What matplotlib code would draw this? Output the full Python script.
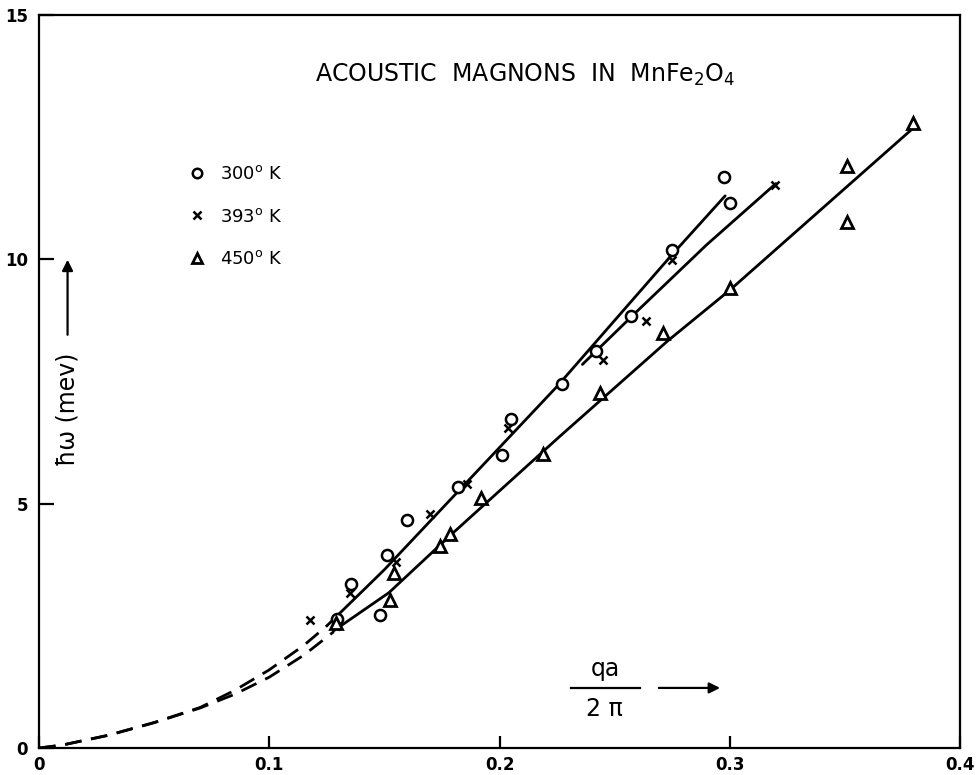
import matplotlib
matplotlib.use("Agg")
import matplotlib.pyplot as plt

plt.rcParams['font.family'] = ['DejaVu Sans']
plt.rcParams['mathtext.default'] = 'regular'

# ---- data ----
x300 = [0.1296, 0.148, 0.1357, 0.151, 0.160, 0.182, 0.201, 0.2048, 0.227, 0.2417, 0.257, 0.275, 0.2974, 0.300]
y300 = [2.65, 2.73, 3.35, 3.96, 4.67, 5.35, 6.00, 6.73, 7.45, 8.12, 8.84, 10.20, 11.69, 11.16]

x393 = [0.1178, 0.129, 0.135, 0.155, 0.170, 0.1857, 0.2035, 0.245, 0.2635, 0.275, 0.3196]
y393 = [2.63, 2.50, 3.18, 3.80, 4.78, 5.41, 6.55, 7.94, 8.73, 9.98, 11.53]

x450 = [0.129, 0.1526, 0.1543, 0.1743, 0.1787, 0.192, 0.2187, 0.2435, 0.271, 0.300, 0.351, 0.351, 0.3796]
y450 = [2.55, 3.02, 3.59, 4.14, 4.37, 5.12, 6.02, 7.26, 8.49, 9.41, 10.76, 11.92, 12.80]

# fitted curves drawn on the chart
fit_up_x = [0.125, 0.15, 0.175, 0.20, 0.225, 0.25, 0.275, 0.298]
fit_up_y = [2.50, 3.65, 4.90, 6.15, 7.40, 8.75, 10.10, 11.30]

fit_393_x = [0.236, 0.26, 0.29, 0.32]
fit_393_y = [7.85, 8.95, 10.30, 11.55]

fit_450_x = [0.128, 0.152, 0.18, 0.226, 0.273, 0.30, 0.38]
fit_450_y = [2.40, 3.18, 4.41, 6.37, 8.33, 9.37, 12.70]

dash_up_x = [0.0, 0.01, 0.03, 0.05, 0.07, 0.085, 0.10, 0.115, 0.125]
dash_up_y = [0.0, 0.06, 0.26, 0.52, 0.83, 1.18, 1.60, 2.10, 2.50]
dash_lo_x = [0.0, 0.01, 0.03, 0.05, 0.07, 0.085, 0.10, 0.115, 0.128]
dash_lo_y = [0.0, 0.06, 0.26, 0.52, 0.82, 1.10, 1.45, 1.90, 2.38]

xticks = [0, 0.1, 0.2, 0.3, 0.4]
xticklabels = ['0', '0.1', '0.2', '0.3', '0.4']
yticks = [0, 5, 10, 15]
yticklabels = ['0', '5', '10', '15']

fig = plt.figure(figsize=(9.8, 7.75), dpi=100)
ax = fig.add_axes([0.0398, 0.0348, 0.9398, 0.9458])
ax.set_xlim(0, 0.4)
ax.set_ylim(0, 15)

for s in ax.spines.values():
    s.set_linewidth(1.6)
    s.set_color('black')

lw = 2.0
ax.plot(fit_up_x, fit_up_y, color='black', lw=lw, solid_capstyle='round')
ax.plot(fit_393_x, fit_393_y, color='black', lw=lw, solid_capstyle='round')
ax.plot(fit_450_x, fit_450_y, color='black', lw=lw, solid_capstyle='round')
ax.plot(dash_up_x, dash_up_y, color='black', lw=lw, dashes=(6, 3.5))
ax.plot(dash_lo_x, dash_lo_y, color='black', lw=lw, dashes=(6, 3.5))

h1, = ax.plot(x300, y300, ls='none', marker='o', ms=8, mfc='white', mec='black', mew=1.8,
              label='300$^{\\mathrm{o}}$ K')
h2, = ax.plot(x393, y393, ls='none', marker='x', ms=6, mec='black', mew=1.8,
              label='393$^{\\mathrm{o}}$ K')
h3, = ax.plot(x450, y450, ls='none', marker='^', ms=9, mfc='white', mec='black', mew=2.0,
              label='450$^{\\mathrm{o}}$ K')

leg = ax.legend(handles=[h1, h2, h3], loc='upper left', bbox_to_anchor=(0.1554, 0.805),
                frameon=False, handlelength=0.8, handletextpad=0.9, labelspacing=1.35,
                fontsize=13, borderaxespad=0, markerscale=0.85)

ax.set_xticks(xticks)
ax.set_xticklabels(xticklabels)
ax.set_yticks(yticks)
ax.set_yticklabels(yticklabels)
ax.tick_params(axis='both', direction='in', width=1.6, labelsize=12, colors='black')
ax.tick_params(axis='x', length=9, pad=6)
ax.tick_params(axis='y', length=11, pad=8)
for t in ax.get_xticklabels() + ax.get_yticklabels():
    t.set_fontweight('bold')

# title inside plot
ax.text(0.528, 0.918, 'ACOUSTIC  MAGNONS  IN  MnFe$_2$O$_4$', transform=ax.transAxes,
        ha='center', va='center', fontsize=17)

# y label with arrow
ax.text(0.031, 0.462, 'ħω (mev)', transform=ax.transAxes, rotation=90,
        ha='center', va='center', fontsize=17)
ax.annotate('', xy=(0.031, 0.67), xytext=(0.031, 0.56), xycoords='axes fraction',
            arrowprops=dict(arrowstyle='-|>', color='black', lw=1.6, mutation_scale=16))

# x label fraction with arrow
ax.text(0.2458, 1.62, 'qa', ha='center', va='center', fontsize=17)
ax.plot([0.231, 0.261], [1.23, 1.23], color='black', lw=1.6)
ax.text(0.2455, 0.80, '2 π', ha='center', va='center', fontsize=17)
ax.annotate('', xy=(0.297, 1.23), xytext=(0.268, 1.23), xycoords='data',
            arrowprops=dict(arrowstyle='-|>', color='black', lw=1.6, mutation_scale=16))

fig.savefig('out.png', dpi=100, facecolor='white')
